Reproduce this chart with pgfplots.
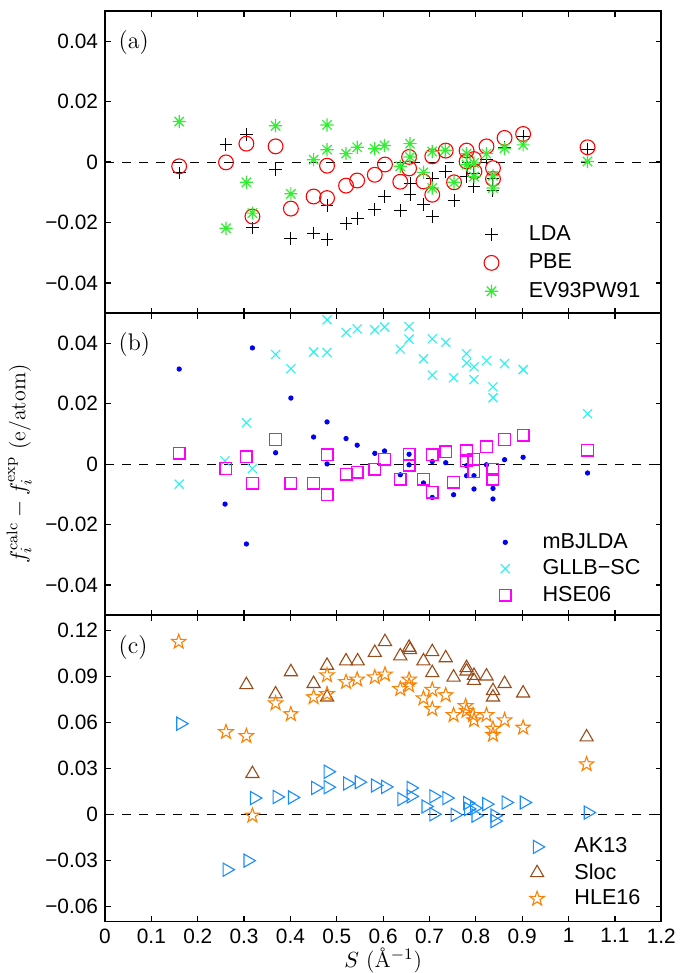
\documentclass[border=0pt]{standalone}
\usepackage{fontspec}
\setsansfont{Liberation Sans}
\usepackage{pgfplots}
\pgfplotsset{compat=1.18}
\usetikzlibrary{plotmarks}

\definecolor{cgreen}{rgb}{0.2,0.93,0.2}
\definecolor{ccyan}{rgb}{0.15,0.95,0.95}
\definecolor{cmag}{rgb}{1,0,1}
\definecolor{cblue}{rgb}{0,0,0.95}
\definecolor{cak}{rgb}{0.1,0.55,1}
\definecolor{cbrown}{rgb}{0.6,0.3,0.1}
\definecolor{corange}{rgb}{1,0.5,0}

\pgfdeclareplotmark{asteriskeight}{%
  \pgfpathmoveto{\pgfqpoint{-\pgfplotmarksize}{0pt}}\pgfpathlineto{\pgfqpoint{\pgfplotmarksize}{0pt}}%
  \pgfpathmoveto{\pgfqpoint{0pt}{-\pgfplotmarksize}}\pgfpathlineto{\pgfqpoint{0pt}{\pgfplotmarksize}}%
  \pgfpathmoveto{\pgfpointpolar{45}{\pgfplotmarksize}}\pgfpathlineto{\pgfpointpolar{225}{\pgfplotmarksize}}%
  \pgfpathmoveto{\pgfpointpolar{135}{\pgfplotmarksize}}\pgfpathlineto{\pgfpointpolar{315}{\pgfplotmarksize}}%
  \pgfusepathqstroke}
\pgfdeclareplotmark{pentagram}{%
  \pgfpathmoveto{\pgfpointpolar{90}{\pgfplotmarksize}}%
  \pgfpathlineto{\pgfpointpolar{126}{0.4\pgfplotmarksize}}%
  \pgfpathlineto{\pgfpointpolar{162}{\pgfplotmarksize}}%
  \pgfpathlineto{\pgfpointpolar{198}{0.4\pgfplotmarksize}}%
  \pgfpathlineto{\pgfpointpolar{234}{\pgfplotmarksize}}%
  \pgfpathlineto{\pgfpointpolar{270}{0.4\pgfplotmarksize}}%
  \pgfpathlineto{\pgfpointpolar{306}{\pgfplotmarksize}}%
  \pgfpathlineto{\pgfpointpolar{342}{0.4\pgfplotmarksize}}%
  \pgfpathlineto{\pgfpointpolar{18}{\pgfplotmarksize}}%
  \pgfpathlineto{\pgfpointpolar{54}{0.4\pgfplotmarksize}}%
  \pgfpathclose\pgfusepathqstroke}
\pgfdeclareplotmark{sqbox}{%
  \pgfpathrectangle{\pgfqpoint{-\pgfplotmarksize}{-\pgfplotmarksize}}{\pgfqpoint{2\pgfplotmarksize}{2\pgfplotmarksize}}%
  \pgfusepathqstroke}

\pgfplotsset{
  panel/.style={
    scale only axis, width=278pt, height=151pt,
    xmin=0, xmax=1.2,
    scaled ticks=false,
    xtick={0,0.1,0.2,0.3,0.4,0.5,0.6,0.7,0.8,0.9,1,1.1,1.2},
    tick align=inside,
    axis line style={line width=0.8pt},
    major tick style={line width=0.6pt, black},
    major tick length=2.8pt,
    ticklabel style={font=\sffamily\fontsize{10.4}{12}\selectfont},
    legend style={draw=none, fill=none, font=\sffamily\fontsize{10.8}{12}\selectfont,
      legend cell align=left, row sep=2.2pt,
      nodes={inner xsep=3pt, inner ysep=1.5pt}},
    legend image code/.code={%
      \path[draw=none] (0cm,0cm) -- (0.85cm,0cm);
      \draw[#1] plot coordinates {(0.3cm,0cm)};},
  },
  zeroline/.style={black, line width=0.5pt, dash pattern=on 4.5pt off 4pt, forget plot},
}

\begin{document}
\begin{tikzpicture}
% ---------------- (a)
\begin{axis}[panel, name=a,
  ymin=-0.05, ymax=0.05,
  ytick={-0.04,-0.02,0,0.02,0.04},
  yticklabels={−0.04,−0.02,0,0.02,0.04},
  xticklabels={},
  legend style={at={(rel axis cs:0.985,0.018)}, anchor=south east},
]
\addplot[zeroline] coordinates {(0,0) (1.2,0)};
\addplot[only marks, mark=+, mark size=3.2pt, black, line width=0.5pt] coordinates {
(0.160,-0.0036) (0.261,0.0057) (0.305,0.0091) (0.318,-0.0218) (0.368,-0.0025)
(0.401,-0.0252) (0.450,-0.0235) (0.479,-0.0257) (0.479,-0.0145) (0.520,-0.0204)
(0.544,-0.0186) (0.582,-0.0156) (0.603,-0.0114) (0.637,-0.0160) (0.658,-0.0108)
(0.658,-0.0072) (0.687,-0.0141) (0.706,-0.0180) (0.706,-0.0053) (0.734,-0.0031)
(0.753,-0.0128) (0.780,-0.0048) (0.796,-0.0081) (0.796,-0.0037) (0.823,0.0010)
(0.837,-0.0056) (0.837,-0.0095) (0.862,0.0048) (0.902,0.0085) (1.041,0.0041)
};
\addlegendentry{LDA}
\addplot[only marks, mark=o, mark size=3.7pt, red, mark options={draw=red, fill=none}, line width=0.55pt] coordinates {
(0.160,-0.0014) (0.261,-0.0001) (0.305,0.0061) (0.318,-0.0180) (0.368,0.0052)
(0.401,-0.0154) (0.450,-0.0114) (0.479,-0.0012) (0.479,-0.0119) (0.520,-0.0078)
(0.544,-0.0061) (0.582,-0.0042) (0.604,-0.0008) (0.637,-0.0065) (0.656,0.0017)
(0.656,-0.0021) (0.687,-0.0064) (0.706,0.0019) (0.706,-0.0108) (0.735,0.0038)
(0.753,-0.0067) (0.780,0.0038) (0.780,0.0002) (0.796,0.0010) (0.797,-0.0031)
(0.823,0.0052) (0.837,-0.0020) (0.837,-0.0056) (0.862,0.0080) (0.902,0.0093)
(1.041,0.0049)
};
\addlegendentry{PBE}
\addplot[only marks, mark=asteriskeight, mark size=3.3pt, cgreen, line width=0.6pt] coordinates {
(0.160,0.0134) (0.261,-0.0219) (0.305,-0.0067) (0.318,-0.0169) (0.368,0.0120)
(0.401,-0.0105) (0.450,0.0008) (0.479,0.0123) (0.479,0.0041) (0.520,0.0028)
(0.544,0.0049) (0.582,0.0044) (0.603,0.0055) (0.637,-0.0014) (0.658,0.0061)
(0.658,0.0017) (0.687,-0.0034) (0.706,0.0035) (0.706,-0.0086) (0.734,0.0039)
(0.753,-0.0067) (0.780,0.0028) (0.780,-0.0009) (0.796,-0.0003) (0.796,-0.0048)
(0.823,0.0028) (0.837,-0.0045) (0.837,-0.0086) (0.862,0.0046) (0.902,0.0057)
(1.041,0.0002)
};
\addlegendentry{EV93PW91}
\node[anchor=west, font=\fontsize{12}{14}\selectfont] at (rel axis cs:0.012,0.895) {(a)};
\end{axis}
% ---------------- (b)
\begin{axis}[panel, name=b, at={(a.south west)}, anchor=north west,
  ymin=-0.05, ymax=0.05,
  ytick={-0.04,-0.02,0,0.02,0.04},
  yticklabels={−0.04,−0.02,0,0.02,0.04},
  xticklabels={},
  ylabel={$f_i^{\mathrm{calc}}-f_i^{\mathrm{exp}}$ (e/atom)},
  ylabel style={font=\fontsize{11}{13}\selectfont},
  legend style={at={(rel axis cs:0.985,0.012)}, anchor=south east, row sep=1.2pt},
]
\addplot[zeroline] coordinates {(0,0) (1.2,0)};
\addplot[only marks, mark=*, mark size=1.1pt, cblue, mark options={draw=cblue, fill=cblue}] coordinates {
(0.160,0.0315) (0.259,-0.0132) (0.305,-0.0264) (0.318,0.0385) (0.368,0.0038)
(0.401,0.0219) (0.450,0.0090) (0.479,0.0140) (0.479,0.0001) (0.520,0.0085)
(0.544,0.0063) (0.582,0.0036) (0.603,0.0044) (0.637,-0.0035) (0.656,0.0033)
(0.656,-0.0002) (0.687,-0.0062) (0.706,0.0009) (0.706,-0.0110) (0.735,0.0005)
(0.752,-0.0101) (0.780,-0.0005) (0.780,-0.0038) (0.796,-0.0038) (0.796,-0.0082)
(0.823,-0.0002) (0.837,-0.0080) (0.837,-0.0115) (0.862,0.0015) (0.902,0.0023)
(1.041,-0.0029)
};
\addlegendentry{mBJLDA}
\addplot[only marks, mark=x, mark size=3.2pt, ccyan, line width=0.55pt] coordinates {
(0.160,-0.0066) (0.259,0.0011) (0.305,0.0137) (0.318,-0.0014) (0.368,0.0363)
(0.401,0.0316) (0.450,0.0371) (0.479,0.0478) (0.479,0.0370) (0.520,0.0436)
(0.544,0.0448) (0.582,0.0445) (0.603,0.0454) (0.637,0.0381) (0.656,0.0456)
(0.656,0.0414) (0.687,0.0349) (0.706,0.0415) (0.706,0.0295) (0.735,0.0403)
(0.752,0.0286) (0.780,0.0366) (0.780,0.0335) (0.796,0.0322) (0.796,0.0280)
(0.823,0.0343) (0.837,0.0256) (0.837,0.0220) (0.862,0.0333) (0.902,0.0313)
(1.041,0.0167)
};
\addlegendentry{GLLB−SC}
\addplot[only marks, mark=sqbox, mark size=2.9pt, cmag, mark options={draw=cmag}, line width=0.7pt] coordinates {
(0.160,0.0036) (0.261,-0.0014) (0.305,0.0025) (0.318,-0.0063) (0.368,0.0082)
(0.401,-0.0063) (0.450,-0.0063) (0.479,0.0031) (0.479,-0.0101) (0.520,-0.0033)
(0.544,-0.0027) (0.582,-0.0016) (0.603,0.0016) (0.637,-0.0049) (0.656,0.0033)
(0.656,-0.0003) (0.687,-0.0049) (0.706,0.0031) (0.706,-0.0093) (0.735,0.0041)
(0.752,-0.0060) (0.780,0.0044) (0.780,0.0011) (0.796,0.0016) (0.796,-0.0024)
(0.823,0.0057) (0.837,-0.0016) (0.837,-0.0049) (0.862,0.0082) (0.902,0.0096)
(1.041,0.0046)
};
\addlegendentry{HSE06}
\node[anchor=west, font=\fontsize{12}{14}\selectfont] at (rel axis cs:0.012,0.895) {(b)};
\end{axis}
% ---------------- (c)
\begin{axis}[panel, name=c, at={(b.south west)}, anchor=north west,
  height=153pt,
  ymin=-0.07, ymax=0.13,
  ytick={-0.06,-0.03,0,0.03,0.06,0.09,0.12},
  yticklabels={−0.06,−0.03,0,0.03,0.06,0.09,0.12},
  xticklabels={0,0.1,0.2,0.3,0.4,0.5,0.6,0.7,0.8,0.9,1,1.1,1.2},
  xlabel={$S$ (\AA$^{-1}$)},
  xlabel style={font=\fontsize{11}{13}\selectfont, inner sep=0pt, yshift=1.2pt},
  legend style={at={(rel axis cs:0.985,0.02)}, anchor=south east, row sep=0.8pt},
]
\addplot[zeroline] coordinates {(0,0) (1.2,0)};
\addplot[only marks, mark=triangle, mark options={rotate=-90, draw=cak, fill=none}, mark size=3.8pt, cak, line width=0.55pt] coordinates {
(0.163,0.0592) (0.263,-0.0362) (0.308,-0.0303) (0.322,0.0106) (0.371,0.0113)
(0.404,0.0110) (0.454,0.0172) (0.481,0.0278) (0.481,0.0177) (0.523,0.0201)
(0.548,0.0210) (0.583,0.0188) (0.605,0.0179) (0.640,0.0099) (0.660,0.0172)
(0.660,0.0117) (0.692,0.0051) (0.709,0.0117) (0.709,0.0000) (0.737,0.0106)
(0.755,-0.0004) (0.782,0.0073) (0.784,0.0035) (0.797,0.0040) (0.800,-0.0009)
(0.823,0.0066) (0.841,-0.0009) (0.841,-0.0044) (0.865,0.0077) (0.904,0.0077)
(1.042,0.0011)
};
\addlegendentry{AK13}
\addplot[only marks, mark=triangle, mark size=3.8pt, cbrown, mark options={draw=cbrown, fill=none}, line width=0.55pt] coordinates {
(0.305,0.0846) (0.318,0.0265) (0.368,0.0785) (0.401,0.0930) (0.450,0.0853)
(0.479,0.0972) (0.479,0.0765) (0.520,0.1001) (0.545,0.1001) (0.582,0.1056)
(0.604,0.1127) (0.637,0.1034) (0.656,0.1090) (0.658,0.1074) (0.687,0.1001)
(0.706,0.1061) (0.706,0.0924) (0.735,0.1021) (0.752,0.0895) (0.780,0.0957)
(0.780,0.0935) (0.796,0.0906) (0.796,0.0873) (0.823,0.0902) (0.837,0.0807)
(0.837,0.0765) (0.862,0.0853) (0.902,0.0791) (1.039,0.0504)
};
\addlegendentry{Sloc}
\addplot[only marks, mark=pentagram, mark size=3.8pt, corange, line width=0.55pt] coordinates {
(0.159,0.1127) (0.261,0.0537) (0.305,0.0511) (0.318,-0.0009) (0.368,0.0725)
(0.401,0.0654) (0.450,0.0765) (0.479,0.0908) (0.479,0.0785) (0.520,0.0864)
(0.544,0.0880) (0.582,0.0895) (0.604,0.0913) (0.637,0.0818) (0.656,0.0880)
(0.656,0.0842) (0.687,0.0758) (0.706,0.0813) (0.706,0.0687) (0.735,0.0778)
(0.752,0.0648) (0.778,0.0707) (0.780,0.0676) (0.794,0.0648) (0.796,0.0614)
(0.823,0.0648) (0.837,0.0559) (0.837,0.0519) (0.862,0.0614) (0.902,0.0566)
(1.039,0.0327)
};
\addlegendentry{HLE16}
\node[anchor=west, font=\fontsize{12}{14}\selectfont] at (rel axis cs:0.012,0.895) {(c)};
\end{axis}
\path (a.north east) ++(4.5pt,5.5pt) coordinate (tr);
\path (tr);
\end{tikzpicture}
\end{document}
